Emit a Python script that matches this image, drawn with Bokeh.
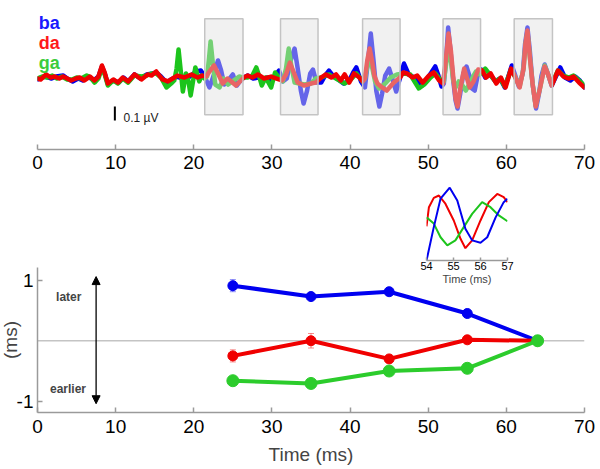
from bokeh.plotting import figure
from bokeh.layouts import column, row
from bokeh.models import (Range1d, FixedTicker, Label, Span, Arrow, NormalHead,
                          Whisker, TeeHead, ColumnDataSource, Spacer)
from bokeh.embed import file_html
from bokeh.resources import INLINE

FONT = "Liberation Sans"
BLUE, RED, GREEN = "#0000f0", "#f00000", "#1cc41c"

# ---------------- top panel: averaged responses (time ms, amplitude uV) -------------
ba_wave = [(0.0,-0.007),(0.5,0.007),(1.1,0.014),(1.8,0.0),(2.4,0.014),(3.3,0.021),(3.8,0.0),(4.5,-0.021),(5.2,0.0),(5.8,-0.014),(6.5,0.014),(7.2,-0.014),(7.8,0.014),(8.25,0.086),(8.6,0.036),(9.0,-0.036),(9.8,-0.014),(10.4,-0.029),(11.0,0.007),(11.6,-0.021),(12.4,0.029),(13.2,0.0),(14.0,0.029),(14.7,0.036),(15.2,0.043),(15.8,0.014),(16.5,-0.029),(17.1,-0.007),(17.8,0.014),(18.6,0.0),(19.5,0.014),(20.3,0.05),(20.9,0.057),(21.4,0.014),(22.0,-0.064),(22.5,0.014),(23.1,0.129),(23.5,0.057),(23.9,-0.043),(24.4,-0.014),(25.0,0.029),(25.5,-0.05),(26.0,-0.014),(26.4,0.007),(26.9,0.021),(27.6,0.0),(28.2,0.007),(28.7,-0.007),(29.4,0.007),(29.9,-0.014),(30.4,0.021),(30.9,0.057),(31.4,-0.021),(31.9,0.0),(32.4,0.129),(32.9,0.214),(33.3,0.071),(33.7,-0.086),(34.05,-0.179),(34.5,-0.086),(34.9,0.036),(35.25,0.064),(35.7,-0.029),(36.3,-0.029),(36.8,0.021),(37.3,0.057),(37.8,0.021),(38.3,0.0),(39.2,-0.036),(39.9,-0.014),(40.4,0.043),(40.8,0.079),(41.4,-0.021),(41.9,-0.064),(42.3,0.129),(42.65,0.321),(43.0,0.129),(43.35,-0.086),(43.75,-0.2),(44.1,-0.107),(44.5,0.021),(45.0,0.071),(45.4,0.0),(45.9,-0.093),(46.3,-0.014),(46.9,0.107),(47.5,0.029),(48.2,0.007),(48.6,-0.014),(49.2,-0.05),(49.7,-0.014),(50.4,0.043),(50.9,0.086),(51.3,0.021),(51.7,-0.057),(52.0,-0.036),(52.3,0.143),(52.55,0.364),(52.85,0.2),(53.2,-0.014),(53.5,-0.157),(53.75,-0.214),(54.1,-0.107),(54.5,0.036),(54.9,0.086),(55.3,0.014),(55.6,-0.071),(55.95,-0.086),(56.4,0.043),(56.8,0.064),(57.3,0.007),(57.9,0.029),(58.6,-0.021),(59.2,0.0),(59.8,-0.064),(60.3,0.021),(60.7,0.093),(61.1,0.029),(61.6,-0.057),(62.1,0.036),(62.4,0.25),(62.7,0.364),(63.0,0.2),(63.35,-0.036),(63.8,-0.214),(64.2,-0.1),(64.5,0.021),(64.9,0.1),(65.3,0.036),(65.8,-0.05),(66.4,0.021),(66.9,0.079),(67.5,0.007),(68.2,-0.014),(68.8,0.014),(69.4,-0.014),(70.0,-0.064)]

ga_wave = [(0.0,0.0),(0.6,0.014),(1.2,0.007),(1.9,0.021),(2.5,0.0),(3.1,0.014),(3.8,-0.007),(4.4,-0.007),(5.0,0.007),(5.6,0.0),(6.3,0.021),(6.8,0.007),(7.3,-0.029),(7.8,0.0),(8.25,0.079),(8.6,0.029),(9.0,-0.05),(9.7,-0.014),(10.3,-0.036),(10.9,0.0),(11.6,-0.029),(12.4,0.021),(13.3,0.014),(14.0,0.021),(14.6,0.036),(15.2,0.036),(15.8,0.007),(16.5,-0.064),(17.1,-0.036),(17.5,-0.014),(17.8,0.071),(18.05,0.207),(18.3,0.071),(18.6,-0.093),(19.0,0.036),(19.3,-0.014),(19.6,-0.121),(19.9,-0.021),(20.2,0.079),(20.7,-0.021),(21.0,0.021),(21.4,0.0),(21.7,0.014),(21.95,0.143),(22.15,0.264),(22.4,0.129),(22.75,-0.043),(23.3,-0.064),(23.8,0.0),(24.4,-0.043),(25.1,-0.014),(25.8,0.014),(26.3,0.007),(26.9,0.007),(27.5,0.021),(28.0,0.079),(28.3,0.029),(28.7,-0.05),(29.2,0.007),(29.9,-0.064),(30.4,0.043),(30.9,0.007),(31.4,-0.021),(31.8,0.071),(32.15,0.214),(32.5,0.086),(32.9,-0.029),(33.5,-0.036),(34.2,-0.043),(35.0,-0.036),(35.6,0.0),(36.3,0.007),(37.3,0.029),(38.2,0.0),(39.3,-0.036),(40.1,-0.007),(40.8,0.036),(41.6,-0.021),(41.9,0.0),(42.2,0.086),(42.5,0.157),(42.8,0.086),(43.2,-0.021),(43.7,-0.071),(44.5,-0.036),(45.2,0.007),(46.0,0.029),(46.9,0.036),(47.7,0.029),(48.8,-0.071),(49.5,-0.043),(50.3,0.007),(50.9,0.036),(51.6,-0.014),(52.0,-0.021),(52.3,0.107),(52.6,0.229),(52.9,0.129),(53.2,-0.014),(53.5,-0.064),(53.9,-0.021),(54.3,-0.043),(54.8,-0.086),(55.3,-0.036),(55.8,0.021),(56.1,0.05),(56.6,0.029),(57.3,0.071),(58.0,0.021),(58.6,-0.021),(59.2,0.0),(59.8,-0.057),(60.6,0.064),(61.1,0.014),(61.7,-0.057),(62.2,0.071),(62.45,0.243),(62.7,0.329),(63.0,0.157),(63.35,-0.036),(63.75,-0.193),(64.3,-0.071),(64.9,0.093),(65.3,0.036),(65.8,-0.043),(66.6,0.057),(67.3,0.021),(68.0,0.007),(68.6,0.021),(69.3,-0.014),(70.0,-0.05)]

da_wave = [(0.0,0.0),(0.4,-0.007),(1.1,0.029),(1.7,0.007),(2.2,0.014),(2.8,0.0),(3.3,0.014),(3.8,0.0),(4.3,-0.014),(4.9,0.0),(5.4,0.007),(6.0,-0.014),(6.7,0.014),(7.3,-0.014),(7.8,0.014),(8.25,0.093),(8.6,0.043),(9.0,-0.036),(9.7,-0.007),(10.3,-0.029),(10.9,0.007),(11.6,-0.021),(12.4,0.029),(13.3,-0.007),(14.1,0.029),(14.6,0.021),(15.2,0.05),(15.6,0.021),(16.0,-0.007),(16.7,-0.021),(17.3,0.0),(17.9,0.021),(18.8,0.007),(19.7,0.029),(20.5,0.007),(21.1,0.021),(21.6,0.014),(22.0,0.05),(22.6,0.093),(23.1,0.036),(23.7,-0.036),(24.3,0.0),(24.8,-0.021),(25.4,-0.05),(25.9,-0.021),(26.4,0.007),(26.9,0.021),(27.5,0.007),(28.2,0.029),(29.0,0.0),(29.9,0.014),(30.6,0.0),(31.3,-0.014),(31.8,0.029),(32.3,0.114),(32.8,0.043),(33.3,-0.029),(34.1,-0.05),(35.0,-0.036),(35.6,-0.029),(36.3,0.007),(36.9,0.029),(37.6,0.007),(38.2,0.029),(38.8,-0.014),(39.3,0.029),(39.9,-0.029),(40.5,0.036),(41.2,0.007),(41.6,-0.021),(41.9,0.0),(42.2,0.129),(42.5,0.214),(42.8,0.129),(43.1,0.021),(43.5,-0.036),(44.1,-0.064),(44.7,-0.086),(45.6,-0.029),(46.4,0.007),(46.8,0.043),(47.3,0.036),(48.0,0.007),(48.6,0.021),(49.3,-0.029),(50.1,0.021),(50.7,0.043),(51.4,-0.014),(51.9,-0.036),(52.2,0.107),(52.6,0.321),(52.9,0.2),(53.2,0.014),(53.5,-0.143),(53.75,-0.2),(54.1,-0.071),(54.6,0.071),(55.3,-0.064),(55.8,-0.021),(56.4,0.064),(56.9,0.057),(57.4,0.007),(58.0,0.036),(58.7,-0.036),(59.3,0.007),(59.9,-0.064),(60.6,0.071),(61.1,0.014),(61.7,-0.064),(62.2,0.071),(62.45,0.25),(62.7,0.343),(63.0,0.157),(63.35,-0.036),(63.75,-0.2),(64.3,-0.071),(64.9,0.086),(65.3,0.036),(65.8,-0.05),(66.6,0.057),(67.3,0.014),(68.0,0.0),(68.6,0.014),(69.3,-0.029),(70.0,-0.064)]

# analysis windows (ms)
win_start = [21.4, 31.1, 41.6, 51.9, 61.0]
win_end = [26.3, 35.9, 46.4, 56.7, 65.9]

# ---------------- inset: 54-57 ms zoom (time ms, amplitude uV) ----------------------
ba_zoom = [(54.0,-0.103),(54.27,-0.017),(54.52,0.056),(54.86,0.084),(55.14,0.051),(55.44,-0.021),(55.69,-0.051),(56.0,-0.057),(56.25,-0.043),(56.56,0.008),(56.86,0.047),(57.0,0.056)]
da_zoom = [(54.0,-0.015),(54.09,0.034),(54.27,0.058),(54.46,0.064),(54.7,0.043),(55.01,0.0),(55.26,-0.047),(55.44,-0.071),(55.69,-0.051),(56.0,0.0),(56.31,0.047),(56.62,0.068),(56.86,0.06),(57.0,0.047)]
ga_zoom = [(54.0,0.008),(54.27,-0.008),(54.52,-0.043),(54.77,-0.064),(55.07,-0.051),(55.38,-0.017),(55.69,0.017),(56.06,0.047),(56.37,0.034),(56.68,0.013),(57.0,-0.002)]

# ---------------- bottom panel: latency shift (ms) per window ------------------------
win_time = [25, 35, 45, 55, 64]
ba_shift = [0.91, 0.73, 0.81, 0.45, 0.0]
da_shift = [-0.25, 0.0, -0.30, 0.016, 0.0]
ga_shift = [-0.66, -0.705, -0.50, -0.455, 0.0]
ba_err = [0.1, 0.05, 0.03, 0.03, 0.0]
da_err = [0.1, 0.12, 0.03, 0.05, 0.0]
ga_err = [0.03, 0.03, 0.03, 0.03, 0.0]


def style_axis(ax, size, standoff, tick_in, color="#9a9a9a"):
    ax.axis_line_color = color
    ax.axis_line_width = 1.5
    ax.major_tick_line_color = color
    ax.major_tick_line_width = 1.5
    ax.major_tick_in = tick_in
    ax.major_tick_out = 0
    ax.minor_tick_line_color = None
    ax.major_label_text_font = FONT
    ax.major_label_text_font_size = size
    ax.major_label_text_color = "black"
    ax.major_label_standoff = standoff


LEFT = 40  # left border of the main panels; the whole column is shifted 4px left

# ---------------- top figure ----------------
top = figure(width=600, height=183, x_range=Range1d(0, 70), y_range=Range1d(-0.507, 0.5),
             y_axis_type=None, output_backend="svg", toolbar_location=None,
             min_border_left=LEFT, min_border_right=12, min_border_top=8, min_border_bottom=34)
top.outline_line_color = None
top.grid.visible = False
style_axis(top.xaxis[0], "19px", 6, 5)
top.xaxis[0].ticker = FixedTicker(ticks=list(range(0, 71, 10)))

for wave, col in ((ba_wave, BLUE), (ga_wave, GREEN), (da_wave, RED)):
    t, v = zip(*wave)
    top.line(list(t), list(v), line_color=col, line_width=4.5, line_join="round", line_cap="round")

top.quad(left=win_start, right=win_end, bottom=-0.259, top=0.426,
         fill_color="#e0e0e0", fill_alpha=0.45, line_color="#c4c4c4", line_width=1.5)

# scale bar 0.1 uV
top.segment(x0=[9.9], y0=[-0.3], x1=[9.9], y1=[-0.2], line_color="black", line_width=2)
top.add_layout(Label(x=11.0, y=-0.283, text="0.1 µV", text_font=FONT, text_font_size="12px",
                     text_color="#222222", text_baseline="alphabetic"))

for lab, yy, col in (("ba", 0.4, "#1a1aff"), ("da", 0.254, "#ff1a1a"), ("ga", 0.11, "#3ccc3c")):
    top.add_layout(Label(x=0.15, y=yy, text=lab, text_font=FONT, text_font_size="18px",
                         text_font_style="bold", text_color=col, text_baseline="alphabetic"))

# ---------------- inset figure ----------------
inset = figure(width=117, height=107, x_range=Range1d(54, 57), y_range=Range1d(-0.1026, 0.0897),
               y_axis_type=None, output_backend="svg", toolbar_location=None,
               min_border_left=16, min_border_right=20, min_border_top=2, min_border_bottom=30)
inset.outline_line_color = None
inset.grid.visible = False
style_axis(inset.xaxis[0], "11px", 1, 3)
inset.xaxis[0].ticker = FixedTicker(ticks=[54, 55, 56, 57])
inset.xaxis[0].axis_label = "Time (ms)"
inset.xaxis[0].axis_label_text_font = FONT
inset.xaxis[0].axis_label_text_font_size = "11px"
inset.xaxis[0].axis_label_text_font_style = "normal"
inset.xaxis[0].axis_label_standoff = 0
for wave, col in ((da_zoom, RED), (ga_zoom, GREEN), (ba_zoom, BLUE)):
    t, v = zip(*wave)
    inset.line(list(t), list(v), line_color=col, line_width=2)

# ---------------- bottom figure ----------------
bottom = figure(width=600, height=213, x_range=Range1d(0, 70), y_range=Range1d(-1.185, 1.21),
                output_backend="svg", toolbar_location=None,
                min_border_left=LEFT, min_border_right=12, min_border_top=12, min_border_bottom=56,
                margin=(-35, 0, 0, 0))
bottom.background_fill_alpha = 0
bottom.border_fill_alpha = 0
bottom.outline_line_color = None
bottom.grid.visible = False
style_axis(bottom.xaxis[0], "19px", 7, 5)
bottom.xaxis[0].ticker = FixedTicker(ticks=list(range(0, 71, 10)))
bottom.xaxis[0].axis_label = "Time (ms)"
bottom.xaxis[0].axis_label_text_font = FONT
bottom.xaxis[0].axis_label_text_font_size = "19px"
bottom.xaxis[0].axis_label_text_font_style = "normal"
bottom.xaxis[0].axis_label_standoff = 8
style_axis(bottom.yaxis[0], "19px", 4, 5)
bottom.yaxis[0].ticker = FixedTicker(ticks=[-1, 1])
bottom.yaxis[0].major_label_overrides = {-1: "-1", 1: "1"}
bottom.yaxis[0].axis_label = "(ms)"
bottom.yaxis[0].axis_label_text_font = FONT
bottom.yaxis[0].axis_label_text_font_size = "19px"
bottom.yaxis[0].axis_label_text_font_style = "normal"
bottom.yaxis[0].axis_label_standoff = -7

bottom.add_layout(Span(location=0, dimension="width", line_color="#c4c4c4", line_width=1.5,
                       level="underlay"))
bottom.add_layout(Arrow(x_start=7.5, y_start=-1.04, x_end=7.5, y_end=1.06, line_width=1.3,
                        line_color="black",
                        start=NormalHead(size=8, fill_color="black", line_color="black"),
                        end=NormalHead(size=8, fill_color="black", line_color="black")))
bottom.add_layout(Label(x=4.0, y=0.73, text="later", text_font=FONT, text_font_size="12px",
                        text_font_style="bold", text_align="center", text_baseline="middle"))
bottom.add_layout(Label(x=3.9, y=-0.79, text="earlier", text_font=FONT, text_font_size="12px",
                        text_font_style="bold", text_align="center", text_baseline="middle"))

for shift, err, col, size in ((ba_shift, ba_err, BLUE, 10), (da_shift, da_err, RED, 10),
                              (ga_shift, ga_err, "#2ccc2c", 12)):
    src = ColumnDataSource(dict(x=win_time, y=shift,
                                lo=[a - b for a, b in zip(shift, err)],
                                hi=[a + b for a, b in zip(shift, err)]))
    bottom.add_layout(Whisker(source=src, base="x", lower="lo", upper="hi",
                              line_color=col, line_alpha=0.45, line_width=1,
                              lower_head=TeeHead(size=6, line_color=col, line_alpha=0.45),
                              upper_head=TeeHead(size=6, line_color=col, line_alpha=0.45)))
    bottom.line("x", "y", source=src, line_color=col, line_width=4)
    bottom.scatter("x", "y", source=src, size=size, fill_color=col, line_color=col)

layout = column(top, row(Spacer(width=414, height=107), inset), bottom, margin=(0, 0, 0, -4))
open("out.html", "w").write(file_html(layout, INLINE))
